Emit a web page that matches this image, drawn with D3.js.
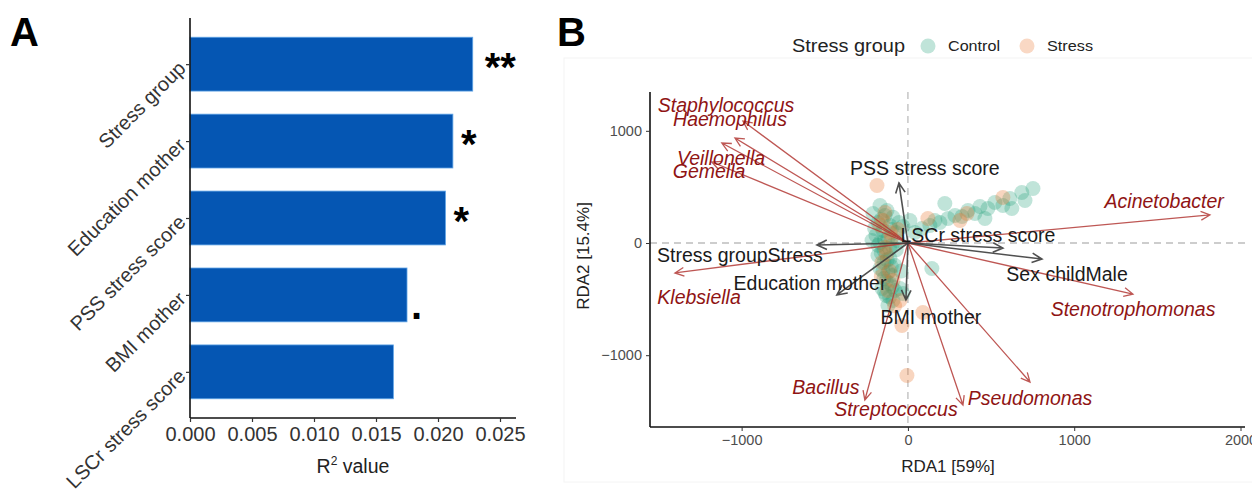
<!DOCTYPE html>
<html><head><meta charset="utf-8">
<script src="https://cdn.jsdelivr.net/npm/d3@7"></script>
<style>body{margin:0;background:#fff;} svg{display:block;font-family:"Liberation Sans",Arial,sans-serif;}</style>
</head><body>
<svg id="c" width="1252" height="493"></svg>
<script>
// ---------- Panel A data ----------
const barCategories = ["Stress group","Education mother","PSS stress score","BMI mother","LSCr stress score"];
const barValues = [0.0228, 0.0212, 0.0206, 0.0175, 0.0164];
const barSignif = ["**","*","*",".",""];
const xTicksA = [0, 0.005, 0.010, 0.015, 0.020, 0.025];

// ---------- Panel B data ----------
const controlX = [752,685,704,613,571,523,481,433,403,361,325,283,241,222,192,162,132,84,42,625,463,144,12,
  -168,-138,-180,-108,-150,-192,-120,-168,-96,-144,-180,-108,-144,-168,-120,-144,-108,-156,-78,-48,-132,-90,-120,-54,-30,-210,-72,-216,-78,-96,
  -126,-160,-100,-140,-110,-160,-125,-100,-150,-130,-95,-140,-110,-70,-60,-180,-200,-90,-40,-30];
const controlY = [486,450,379,397,334,361,307,325,263,290,236,245,218,352,183,200,156,129,94,307,218,-227,200,
  334,245,183,156,111,67,40,4,-22,-67,-111,-138,-174,-227,-263,-316,-361,-405,-423,-405,-468,-512,-557,183,147,263,94,22,-200,-290,
  290,210,120,30,-50,-90,-150,-210,-250,-340,-390,-440,-480,-60,20,-20,130,230,-250,-450];
const stressX = [-186,-6,-36,90,571,355,313,120,-138,-168,-108,-138,-156,-90,-48,-120,-150,-100,-130,-110,-80,-160,-60];
const stressY = [512,-1181,-735,-619,405,263,200,218,272,156,94,-40,-174,-334,-512,-423,200,40,-100,-250,-560,-300,120];

const speciesNames = ["Staphylococcus","Haemophilus","Veillonella","Gemella","Acinetobacter","Klebsiella","Stenotrophomonas","Pseudomonas","Bacillus","Streptococcus"];
const speciesX = [-992,-1040,-1119,-1179,1816,-1401,1353,734,-259,331];
const speciesY = [1087,936,891,722,250,-267,-455,-1239,-1399,-1444];
const speciesLabelX = [-1094,-1070,-1124,-1196,1541,-1256,1354,734,-493,-72];
const speciesLabelY = [1230,1105,758,642,374,-481,-588,-1382,-1284,-1480];

const envNames = ["Stress groupStress","Education mother","PSS stress score","LSCr stress score","Sex childMale","BMI mother"];
const envX = [-547,-427,-54,571,806,-12];
const envY = [-18,-463,535,-45,-143,-508];
const envLabelX = [-1010,-589,102,421,957,138];
const envLabelY = [-107,-357,668,71,-276,-660];

const xTicksB = [-1000, 0, 1000, 2000];
const yTicksB = [-1000, 0, 1000];
const legendGroups = ["Control","Stress"];

const svg = d3.select("#c");

// ================= Panel A =================
const A = svg.append("g");
const xA = d3.scaleLinear().domain([0, 0.02629]).range([190, 516]);
const yA = d3.scalePoint().domain(barCategories).range([18, 418]).padding(0.6);
const bandH = yA.step() * 0.7;

A.selectAll("rect.bar").data(barCategories).join("rect")
  .attr("x", xA(0)).attr("y", d => yA(d) - bandH/2)
  .attr("width", (d,i) => xA(barValues[i]) - xA(0)).attr("height", bandH)
  .attr("fill", "#0556b3").attr("stroke", "#5fa4e6").attr("stroke-width", 0.8);

A.selectAll("text.sig").data(barCategories).join("text")
  .attr("x", (d,i) => xA(barValues[i]) + (barSignif[i]==="." ? 4 : (barSignif[i]==="**" ? 12 : 8)))
  .attr("y", (d,i) => yA(d) + (barSignif[i]==="." ? 24 : 17))
  .attr("font-size", 40).attr("font-weight", "bold").attr("fill", "#000")
  .text((d,i) => barSignif[i]);

const axA = A.append("g").attr("transform", "translate(0,418)")
  .call(d3.axisBottom(xA).tickValues(xTicksA).tickFormat(d3.format(".3f")).tickSize(4).tickPadding(5));
axA.select(".domain").attr("stroke", "#111").attr("stroke-width", 1.6).attr("d", "M190,0H516");
axA.selectAll(".tick line").attr("stroke", "#333").attr("stroke-width", 1.2);
axA.selectAll(".tick text").attr("font-size", 20).attr("fill", "#333").attr("font-family", "Liberation Sans, Arial, sans-serif");

const ayA = A.append("g").attr("transform", "translate(190,0)")
  .call(d3.axisLeft(yA).tickSize(4).tickPadding(4));
ayA.select(".domain").attr("stroke", "#111").attr("stroke-width", 1.6).attr("d", "M0,18V418");
ayA.selectAll(".tick line").attr("stroke", "#333").attr("stroke-width", 1.2);
ayA.selectAll(".tick text").attr("font-size", 20).attr("fill", "#333")
  .attr("font-family", "Liberation Sans, Arial, sans-serif")
  .attr("text-anchor", "end").attr("dy", "0.35em")
  .attr("transform", "rotate(-45,-8,0)").attr("x", -8).attr("y", 0);

A.append("text").attr("x", (xA(0) + 516) / 2).attr("y", 473).attr("text-anchor", "middle")
  .attr("font-size", 19.5).attr("fill", "#222")
  .html('R<tspan dy="-8" font-size="12">2</tspan><tspan dy="8"> value</tspan>');

svg.append("text").attr("x", 10).attr("y", 46).attr("font-size", 40).attr("font-weight", "bold").text("A");
svg.append("text").attr("x", 557).attr("y", 46).attr("font-size", 40).attr("font-weight", "bold").text("B");

// ================= Panel B =================
const B = svg.append("g");
B.append("rect").attr("x", 564).attr("y", 58).attr("width", 690).attr("height", 424)
  .attr("fill", "none").attr("stroke", "#f4f4f4").attr("stroke-width", 1);

const xB = d3.scaleLinear().domain([-1551, 2027]).range([650, 1245]);
const yB = d3.scaleLinear().domain([-1640, 1346]).range([427, 92]);

// dashed zero lines
B.append("line").attr("x1", xB(-1551)).attr("x2", xB(2027)).attr("y1", yB(0)).attr("y2", yB(0))
  .attr("stroke", "#bdbdbd").attr("stroke-width", 1.3).attr("stroke-dasharray", "7,5");
B.append("line").attr("x1", xB(0)).attr("x2", xB(0)).attr("y1", yB(1346)).attr("y2", yB(-1640))
  .attr("stroke", "#bdbdbd").attr("stroke-width", 1.3).attr("stroke-dasharray", "7,5");

// points
const ctrlPts = controlX.map((x,i) => [x, controlY[i]]);
const strPts = stressX.map((x,i) => [x, stressY[i]]);
B.selectAll("circle.ctrl").data(ctrlPts).join("circle")
  .attr("cx", d => xB(d[0])).attr("cy", d => yB(d[1])).attr("r", 7.5)
  .attr("fill", "#1b9e77").attr("fill-opacity", 0.28);
B.selectAll("circle.str").data(strPts).join("circle")
  .attr("cx", d => xB(d[0])).attr("cy", d => yB(d[1])).attr("r", 7.5)
  .attr("fill", "#e8742a").attr("fill-opacity", 0.3);

function arrowPath(x0, y0, x1, y1, L) {
  const a = Math.atan2(y1 - y0, x1 - x0), s = Math.PI / 7;
  const p1 = [x1 - L*Math.cos(a - s), y1 - L*Math.sin(a - s)];
  const p2 = [x1 - L*Math.cos(a + s), y1 - L*Math.sin(a + s)];
  return `M${x0},${y0}L${x1},${y1}M${p1[0]},${p1[1]}L${x1},${y1}L${p2[0]},${p2[1]}`;
}

// species arrows
B.selectAll("path.sp").data(speciesNames).join("path")
  .attr("d", (d,i) => arrowPath(xB(0), yB(0), xB(speciesX[i]), yB(speciesY[i]), 10))
  .attr("fill", "none").attr("stroke", "#b33a36").attr("stroke-opacity", 0.85).attr("stroke-width", 1.3);

// env arrows
B.selectAll("path.env").data(envNames).join("path")
  .attr("d", (d,i) => arrowPath(xB(0), yB(0), xB(envX[i]), yB(envY[i]), 11))
  .attr("fill", "none").attr("stroke", "#3d3d3d").attr("stroke-opacity", 0.9).attr("stroke-width", 1.6);

// labels
B.selectAll("text.spl").data(speciesNames).join("text")
  .attr("x", (d,i) => xB(speciesLabelX[i])).attr("y", (d,i) => yB(speciesLabelY[i]))
  .attr("dy", "0.35em").attr("text-anchor", "middle")
  .attr("font-size", 19.5).attr("font-style", "italic").attr("fill", "#8f1414").text(d => d);
B.selectAll("text.envl").data(envNames).join("text")
  .attr("x", (d,i) => xB(envLabelX[i])).attr("y", (d,i) => yB(envLabelY[i]))
  .attr("dy", "0.35em").attr("text-anchor", "middle")
  .attr("font-size", 19.5).attr("fill", "#1a1a1a").text(d => d);

// axes
const axB = B.append("g").attr("transform", `translate(0,${yB(-1640)})`)
  .call(d3.axisBottom(xB).tickValues(xTicksB).tickSize(4).tickPadding(4).tickFormat(d3.format("d")));
axB.select(".domain").attr("stroke", "#111").attr("stroke-width", 1.6).attr("d", `M650,0H1245`);
axB.selectAll(".tick line").attr("stroke", "#333");
axB.selectAll(".tick text").attr("font-size", 14.5).attr("fill", "#4d4d4d").attr("font-family", "Liberation Sans, Arial, sans-serif");

const ayB = B.append("g").attr("transform", "translate(650,0)")
  .call(d3.axisLeft(yB).tickValues(yTicksB).tickSize(4).tickPadding(4).tickFormat(d3.format("d")));
ayB.select(".domain").attr("stroke", "#111").attr("stroke-width", 1.6).attr("d", "M0,92V427");
ayB.selectAll(".tick line").attr("stroke", "#333");
ayB.selectAll(".tick text").attr("font-size", 14.5).attr("fill", "#4d4d4d").attr("font-family", "Liberation Sans, Arial, sans-serif");

B.append("text").attr("x", 948).attr("y", 472).attr("text-anchor", "middle")
  .attr("font-size", 17).attr("fill", "#222").text("RDA1 [59%]");
B.append("text").attr("transform", "translate(589,256) rotate(-90)").attr("text-anchor", "middle")
  .attr("font-size", 17).attr("fill", "#222").text("RDA2 [15.4%]");

// legend
const leg = B.append("g");
leg.append("text").attr("x", 792).attr("y", 52).attr("font-size", 18).attr("fill", "#222")
  .attr("textLength", 113).attr("lengthAdjust", "spacingAndGlyphs").text("Stress group");
const legX = [928, 1027];
const legCol = ["#1b9e77", "#e8742a"];
leg.selectAll("circle").data(legendGroups).join("circle")
  .attr("cx", (d,i) => legX[i]).attr("cy", 46).attr("r", 7.5)
  .attr("fill", (d,i) => legCol[i]).attr("fill-opacity", 0.28);
leg.selectAll("text.lt").data(legendGroups).join("text")
  .attr("x", (d,i) => legX[i] + 20).attr("y", 51).attr("font-size", 15).attr("fill", "#222")
  .attr("textLength", (d,i) => [52, 46][i]).attr("lengthAdjust", "spacingAndGlyphs").text(d => d);
</script>
</body></html>
